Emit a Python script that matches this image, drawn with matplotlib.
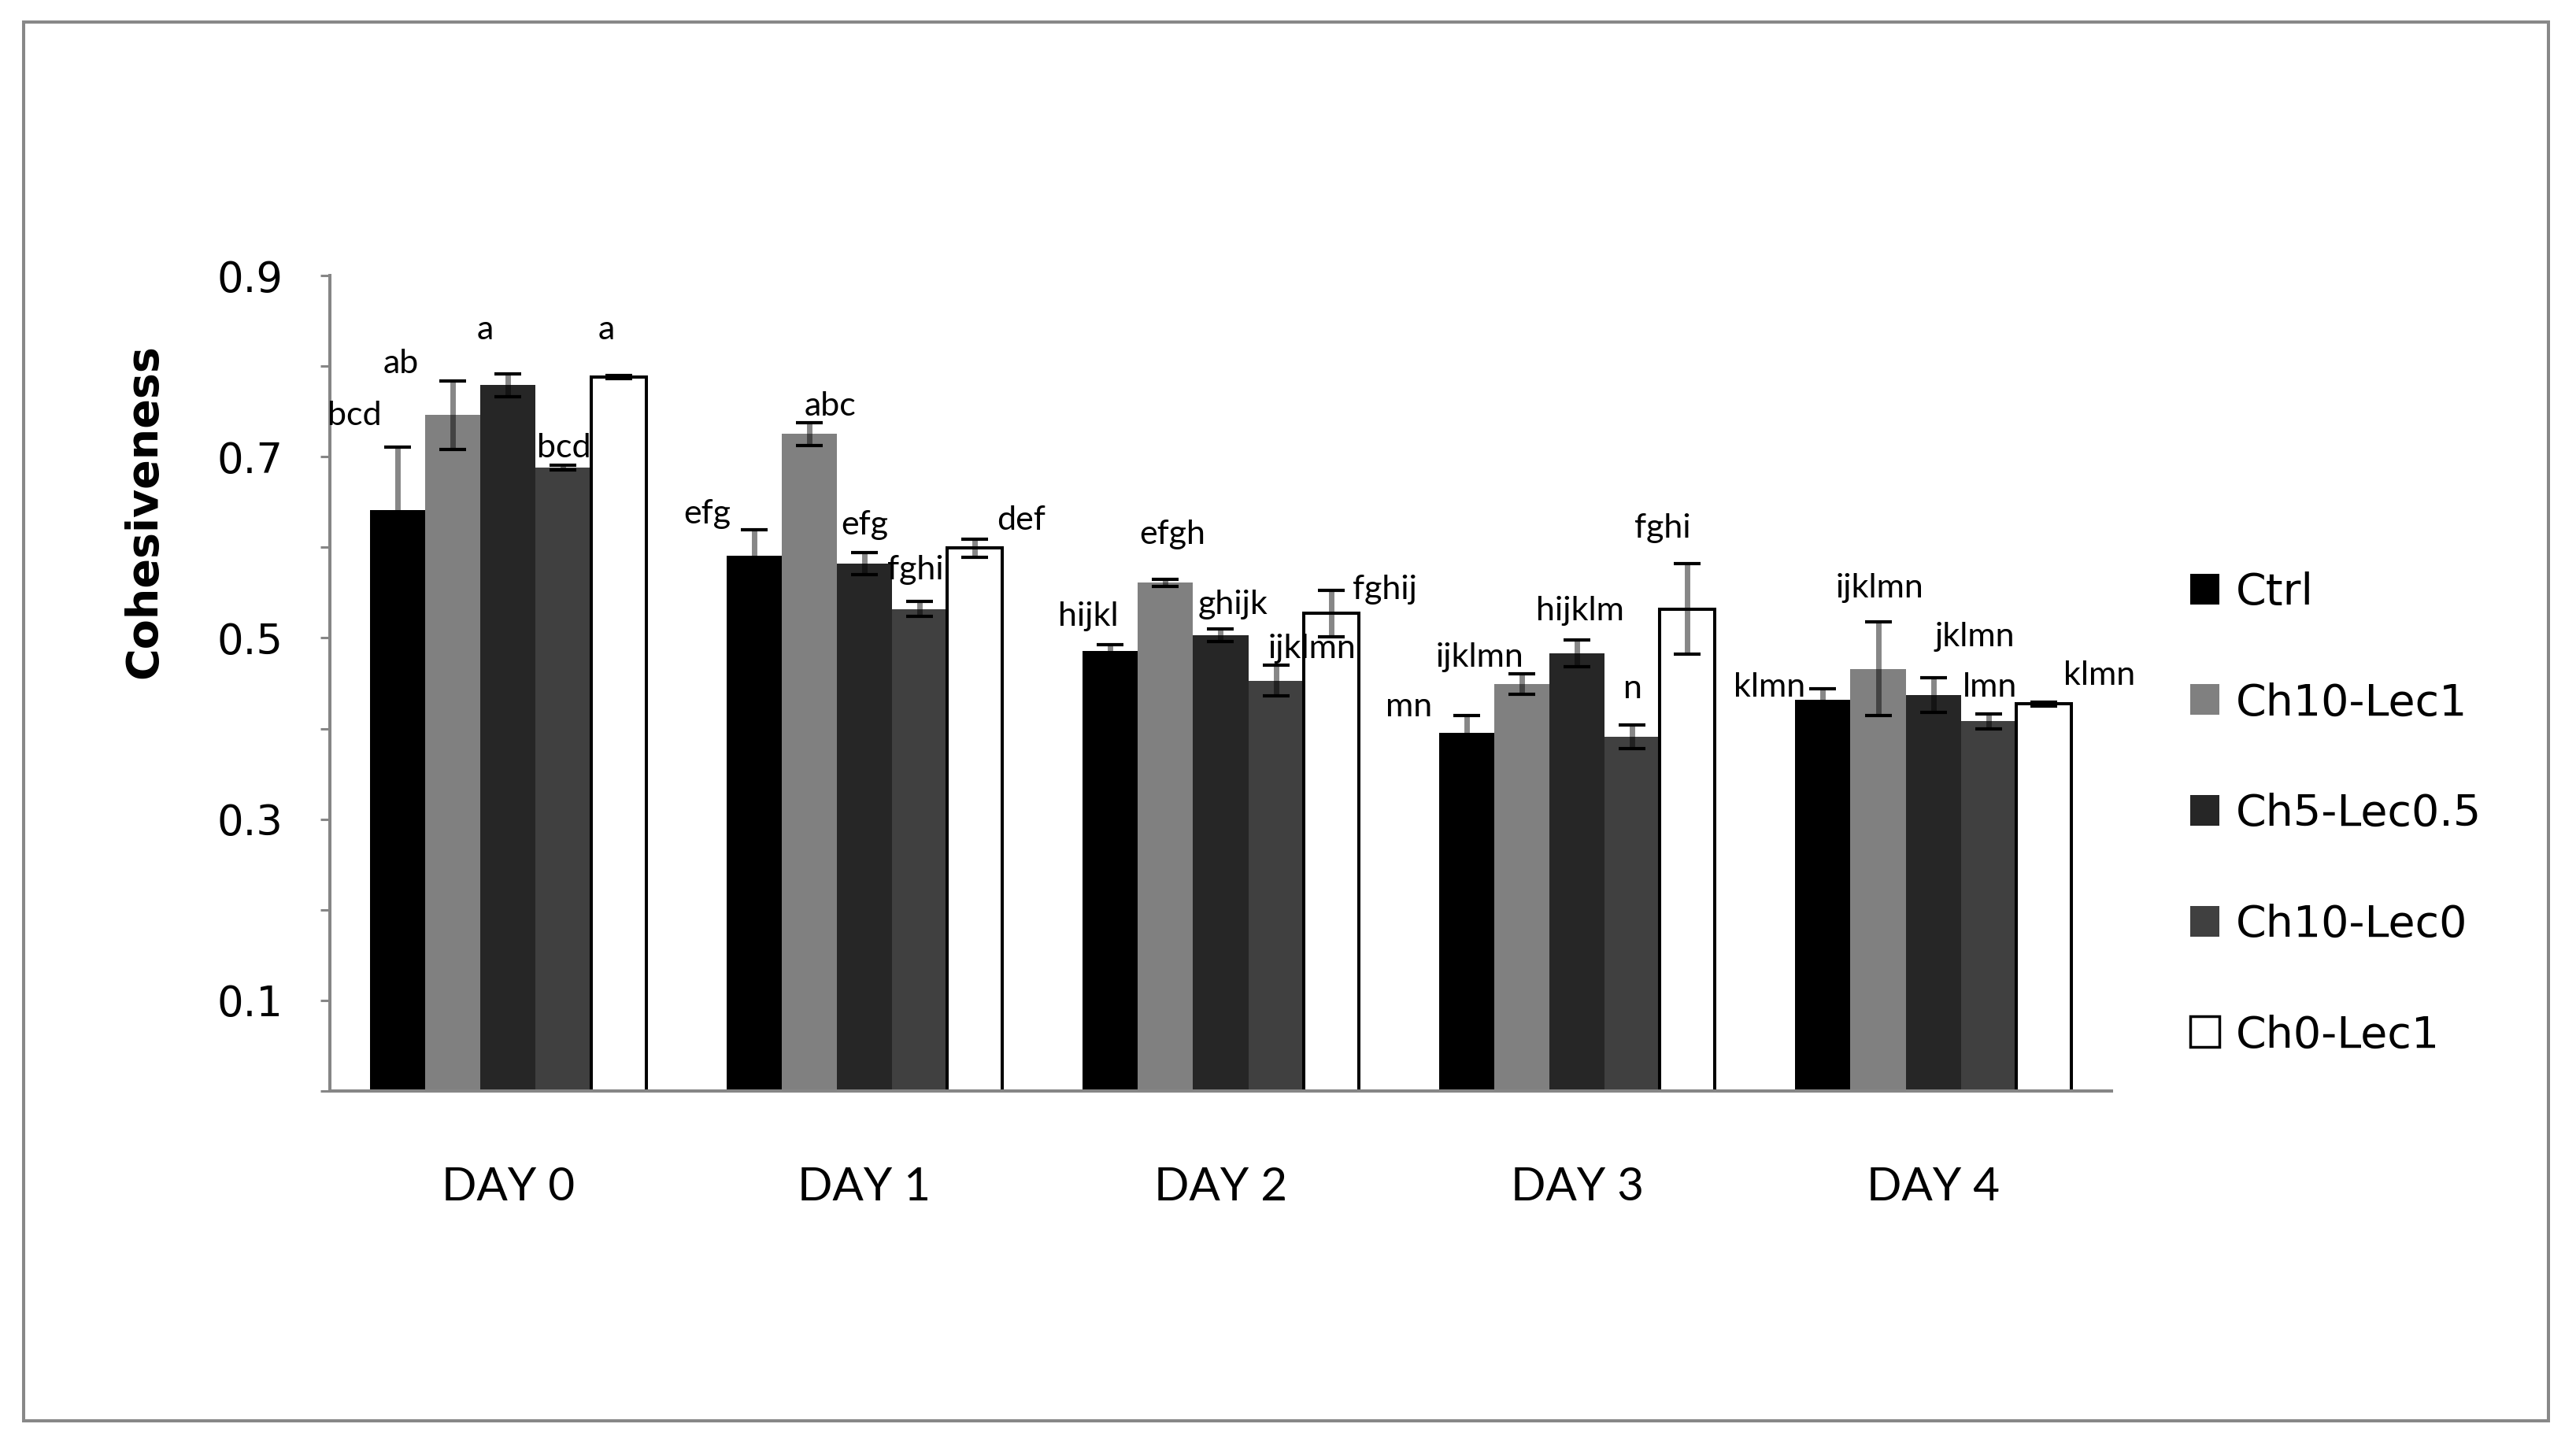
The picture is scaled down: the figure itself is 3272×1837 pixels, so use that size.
import matplotlib
matplotlib.use("Agg")
import matplotlib.pyplot as plt
from matplotlib.patches import Rectangle, Patch
import numpy as np

# data
days = ["DAY 0", "DAY 1", "DAY 2", "DAY 3", "DAY 4"]
treatments = ["Ctrl", "Ch10-Lec1", "Ch5-Lec0.5", "Ch10-Lec0", "Ch0-Lec1"]

ctrl = [0.641, 0.591, 0.486, 0.395, 0.432]
ch10_lec1 = [0.746, 0.725, 0.561, 0.449, 0.466]
ch5_lec05 = [0.779, 0.582, 0.503, 0.483, 0.437]
ch10_lec0 = [0.688, 0.532, 0.453, 0.391, 0.408]
ch0_lec1 = [0.788, 0.599, 0.527, 0.532, 0.427]

ctrl_err = [0.070, 0.028, 0.007, 0.019, 0.012]
ch10_lec1_err = [0.038, 0.0125, 0.004, 0.011, 0.052]
ch5_lec05_err = [0.0125, 0.0125, 0.0067, 0.015, 0.019]
ch10_lec0_err = [0.003, 0.0085, 0.0166, 0.0127, 0.0085]
ch0_lec1_err = [0.002, 0.010, 0.0256, 0.050, 0.002]

# significance letters, per day, in treatment order
letters = [
    ["bcd", "ab", "a", "bcd", "a"],
    ["efg", "abc", "efg", "fghi", "def"],
    ["hijkl", "efgh", "ghijk", "ijklmn", "fghij"],
    ["mn", "ijklmn", "hijklm", "n", "fghi"],
    ["klmn", "ijklmn", "jklmn", "lmn", "klmn"],
]

# where each letter sits: x offset from the day centre, y in data units
letter_dx = [
    [-0.430, -0.300, -0.065, 0.157, 0.277],
    [-0.442, -0.096, 0.001, 0.144, 0.440],
    [-0.371, -0.136, 0.035, 0.257, 0.460],
    [-0.471, -0.273, 0.009, 0.156, 0.240],
    [-0.460, -0.151, 0.116, 0.158, 0.467],
]
letter_y = [
    [0.745, 0.803, 0.840, 0.710, 0.840],
    [0.637, 0.756, 0.625, 0.575, 0.630],
    [0.524, 0.614, 0.537, 0.488, 0.553],
    [0.424, 0.479, 0.530, 0.444, 0.621],
    [0.446, 0.555, 0.501, 0.446, 0.459],
]

series = [ctrl, ch10_lec1, ch5_lec05, ch10_lec0, ch0_lec1]
errors = [ctrl_err, ch10_lec1_err, ch5_lec05_err, ch10_lec0_err, ch0_lec1_err]
colors = ["#000000", "#808080", "#262626", "#404040", "#ffffff"]

W, H = 3273, 1837
fig = plt.figure(figsize=(W / 100, H / 100), dpi=100)
ax = fig.add_axes([419 / W, 1 - 1386 / H, (2682 - 419) / W, (1386 - 350) / H])

x = np.arange(len(days))
bar_w = 0.155
for i, (vals, errs) in enumerate(zip(series, errors)):
    pos = x + (i - 2) * bar_w
    edge = "black" if colors[i] == "#ffffff" else colors[i]
    lw = 2.9 if colors[i] == "#ffffff" else 0
    ax.bar(pos, vals, width=bar_w, color=colors[i], edgecolor=edge,
           linewidth=lw, zorder=2)
    eb = ax.errorbar(pos, vals, yerr=errs, fmt="none", ecolor="black",
                     elinewidth=5, capsize=12, capthick=3, zorder=3)
    eb[2][0].set_alpha(0.47)

for d in range(len(days)):
    for i in range(len(treatments)):
        ax.text(x[d] + letter_dx[d][i], letter_y[d][i], letters[d][i],
                ha="center", va="center", fontsize=31, family="Lato",
                color="black", zorder=4)

ax.set_xlim(-0.5, 4.5)
ax.set_ylim(0, 0.9)
ax.set_yticks(np.arange(0, 0.91, 0.1))
ax.set_yticklabels(["" if k % 2 == 0 else f"{k / 10:.1f}" for k in range(10)])
ax.set_xticks(x)
ax.set_xticklabels(days, family="Lato", fontsize=42)

for s in ["top", "right"]:
    ax.spines[s].set_visible(False)
for s in ["left", "bottom"]:
    ax.spines[s].set_color("#868686")
    ax.spines[s].set_linewidth(2.9)

ax.tick_params(axis="y", direction="out", length=8.6, width=2.2,
               color="#868686", pad=34, labelsize=38)
ax.tick_params(axis="x", length=0, pad=69)

fig.text(183 / W, 1 - 650 / H, "Cohesiveness", rotation=90, ha="center",
         va="center", fontsize=40, fontweight="bold")

handles = [Patch(facecolor=c, edgecolor="black" if c == "#ffffff" else c,
                 linewidth=2.5 if c == "#ffffff" else 0) for c in colors]
fig.legend(handles, treatments, loc="center left",
           bbox_to_anchor=(2782 / W, 1 - 1034 / H), frameon=False,
           fontsize=40, handlelength=0.67, handleheight=0.7,
           handletextpad=0.38, labelspacing=1.56, borderpad=0,
           borderaxespad=0)

fig.patches.append(Rectangle((30 / W, 1 - 1805 / H), (3237 - 30) / W,
                             (1805 - 28) / H, transform=fig.transFigure,
                             fill=False, edgecolor="#888888", linewidth=2.9))

fig.savefig("out.png", dpi=100)
